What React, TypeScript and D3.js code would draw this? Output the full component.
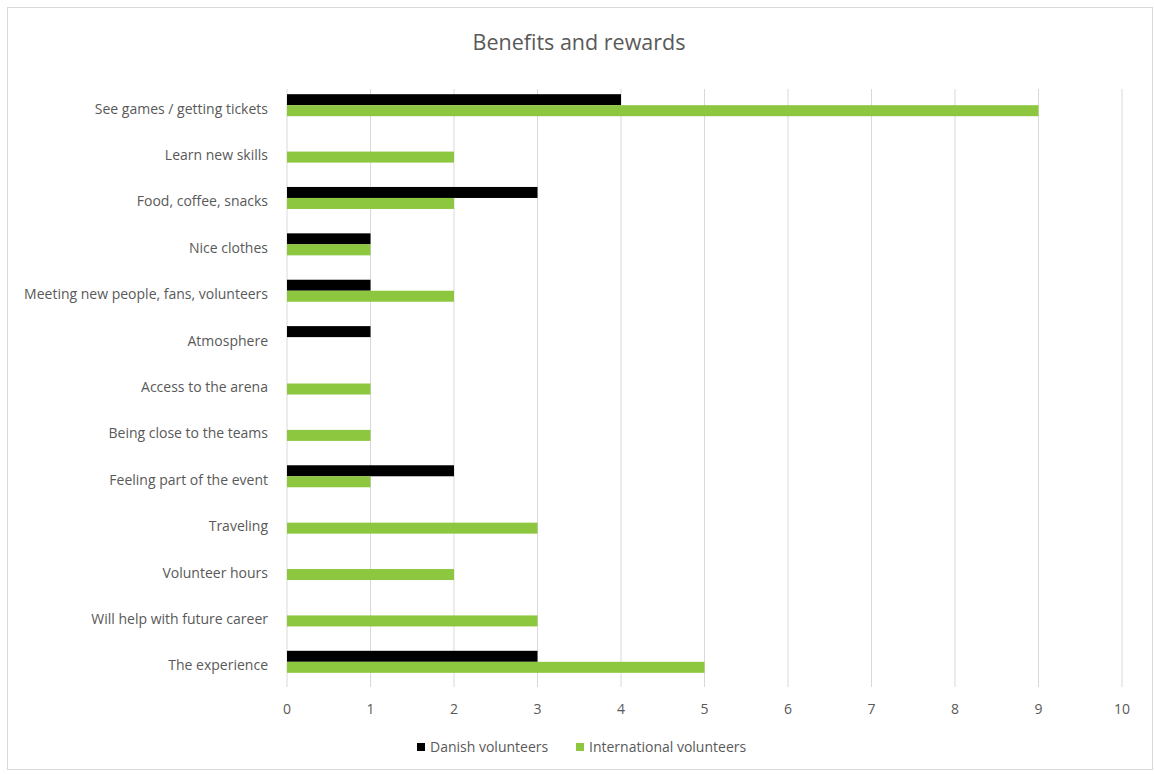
import React from "react";
import * as d3 from "d3";

const categories = [
  "See games / getting tickets",
  "Learn new skills",
  "Food, coffee, snacks",
  "Nice clothes",
  "Meeting new people, fans, volunteers",
  "Atmosphere",
  "Access to the arena",
  "Being close to the teams",
  "Feeling part of the event",
  "Traveling",
  "Volunteer hours",
  "Will help with future career",
  "The experience",
];
const danish = [4, 0, 3, 1, 1, 1, 0, 0, 2, 0, 0, 0, 3];
const international = [9, 2, 2, 1, 2, 0, 1, 1, 1, 3, 2, 3, 5];
const xTicks = [0, 1, 2, 3, 4, 5, 6, 7, 8, 9, 10];
const seriesNames = ["Danish volunteers", "International volunteers"];
const seriesColors = ["#000000", "#8DC63F"];

export default function App() {
  const W = 1154, H = 774;
  const x = d3.scaleLinear().domain([0, 10]).range([287, 1122]);
  const y = d3.scaleBand().domain(categories).range([82, 685]);
  const barH = 11;
  const font = "'Open Sans', 'Liberation Sans', sans-serif";
  const textColor = "#595959";
  const legendX = [417, 576];
  return (
    <svg width={W} height={H} style={{ position: "absolute", left: 0, top: 0 }}>
      <rect x={0} y={0} width={W} height={H} fill="#fff" />
      <rect x={7.5} y={7.5} width={1145} height={762} fill="#fff" stroke="#d9d9d9" />
      <text x={579} y={50} textAnchor="middle" fontFamily={font} fontSize={21.5} fill={textColor}>
        Benefits and rewards
      </text>
      {xTicks.map((t) => (
        <g key={t}>
          <line x1={x(t)} x2={x(t)} y1={89} y2={687} stroke="#d9d9d9" strokeWidth={1} />
          <text x={x(t)} y={714} textAnchor="middle" fontFamily={font} fontSize={14} fill={textColor}>
            {t}
          </text>
        </g>
      ))}
      {categories.map((c, i) => {
        const cy = (y(c) as number) + y.bandwidth() / 2;
        return (
          <g key={c}>
            {danish[i] > 0 && (
              <rect x={x(0)} y={cy - barH} width={x(danish[i]) - x(0)} height={barH} fill={seriesColors[0]} />
            )}
            {international[i] > 0 && (
              <rect x={x(0)} y={cy} width={x(international[i]) - x(0)} height={barH} fill={seriesColors[1]} />
            )}
            <text x={268} y={cy + 8.5} textAnchor="end" fontFamily={font} fontSize={14} fill={textColor}>
              {c}
            </text>
          </g>
        );
      })}
      {seriesNames.map((s, i) => {
        const lx = legendX[i];
        return (
          <g key={s}>
            <rect x={lx} y={743} width={8} height={8} fill={seriesColors[i]} />
            <text x={lx + 13} y={752} fontFamily={font} fontSize={14} fill={textColor}>
              {s}
            </text>
          </g>
        );
      })}
    </svg>
  );
}
